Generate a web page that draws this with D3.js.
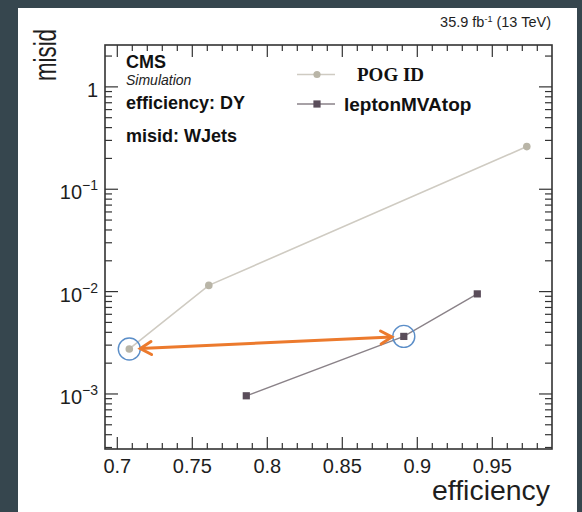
<!DOCTYPE html>
<html><head><meta charset="utf-8">
<script src="https://cdn.jsdelivr.net/npm/d3@7"></script>
<style>body{margin:0;background:#36464e;overflow:hidden}svg{display:block}</style>
</head><body><svg id="c" width="582" height="512"></svg>
<script>
// ---- data ----
const seriesNames = ["POG ID", "leptonMVAtop"];
const pogEff   = [0.708, 0.761, 0.973];
const pogMisid = [2.75e-3, 1.15e-2, 0.261];
const mvaEff   = [0.786, 0.891, 0.940];
const mvaMisid = [9.6e-4, 3.65e-3, 9.5e-3];
const xTickValues = [0.7, 0.75, 0.8, 0.85, 0.9, 0.95];
const xTickLabels = ["0.7", "0.75", "0.8", "0.85", "0.9", "0.95"];
const yTickValues = [1, 0.1, 0.01, 0.001];
const yTickExponents = [0, -1, -2, -3];
const infoLines = ["CMS", "Simulation", "efficiency: DY", "misid: WJets"];
const lumiText = ["35.9 fb", "-1", " (13 TeV)"];
const xTitle = "efficiency", yTitle = "misid";
// highlighted comparison: POG ID point 0  <->  leptonMVAtop point 1
const highlight = [{s: 0, i: 0}, {s: 1, i: 1}];

const svg = d3.select("#c");
const L = 105, R = 552, T = 45, B = 449;
const x = d3.scaleLinear().domain([0.6918, 0.9898]).range([L, R]);
const y = d3.scaleLog().domain([2.9e-4, 2.565]).range([B, T]);

svg.append("rect").attr("x", 18).attr("y", 8).attr("width", 559).attr("height", 504).attr("fill", "#fff");

const axisCol = "#333";
const g = svg.append("g");
// x ticks
const xMinor = d3.range(70, 99).map(v => v / 100).filter(v => v > x.domain()[0] && v < x.domain()[1]);
xMinor.forEach(v => {
  const major = xTickValues.some(t => Math.abs(t - v) < 1e-6);
  const len = major ? 12 : 6;
  g.append("line").attr("x1", x(v)).attr("x2", x(v)).attr("y1", B).attr("y2", B - len).attr("stroke", axisCol).attr("stroke-width", 1.2);
  g.append("line").attr("x1", x(v)).attr("x2", x(v)).attr("y1", T).attr("y2", T + len).attr("stroke", axisCol).attr("stroke-width", 1.2);
});
// y ticks
const yMinor = [];
[1e-4, 1e-3, 1e-2, 1e-1, 1].forEach(d => { for (let m = 2; m <= 9; m++) yMinor.push(m * d); });
yMinor.filter(v => v > y.domain()[0] && v < y.domain()[1]).forEach(v => {
  g.append("line").attr("x1", L).attr("x2", L + 7).attr("y1", y(v)).attr("y2", y(v)).attr("stroke", axisCol).attr("stroke-width", 1.2);
  g.append("line").attr("x1", R).attr("x2", R - 7).attr("y1", y(v)).attr("y2", y(v)).attr("stroke", axisCol).attr("stroke-width", 1.2);
});
yTickValues.forEach(v => {
  g.append("line").attr("x1", L).attr("x2", L + 13).attr("y1", y(v)).attr("y2", y(v)).attr("stroke", axisCol).attr("stroke-width", 1.2);
  g.append("line").attr("x1", R).attr("x2", R - 13).attr("y1", y(v)).attr("y2", y(v)).attr("stroke", axisCol).attr("stroke-width", 1.2);
});
g.append("rect").attr("x", L).attr("y", T).attr("width", R - L).attr("height", B - T)
  .attr("fill", "none").attr("stroke", axisCol).attr("stroke-width", 1.6);

const font = "Liberation Sans, Arial, Helvetica, sans-serif";
// x tick labels
xTickValues.forEach((v, i) => {
  svg.append("text").attr("x", x(v)).attr("y", B + 23.5).attr("text-anchor", "middle")
    .attr("font-family", font).attr("font-size", 20).attr("fill", "#1e1e1e").text(xTickLabels[i]);
});
// y tick labels
yTickValues.forEach((v, i) => {
  const t = svg.append("text").attr("x", 98).attr("y", y(v) + 10).attr("text-anchor", "end")
    .attr("font-family", font).attr("font-size", 20).attr("fill", "#1e1e1e");
  if (yTickExponents[i] === 0) t.text("1");
  else {
    t.append("tspan").text("10");
    t.append("tspan").attr("font-size", 14).attr("dy", -9).text("\u2212" + (-yTickExponents[i]));
  }
});
// axis titles
svg.append("text").attr("x", 550).attr("y", 500).attr("text-anchor", "end")
  .attr("font-family", font).attr("font-size", 27).attr("fill", "#1e1e1e")
  .attr("textLength", 118).attr("lengthAdjust", "spacingAndGlyphs").text(xTitle);
svg.append("text").attr("transform", "translate(56,29) rotate(-90)").attr("text-anchor", "end")
  .attr("font-family", font).attr("font-size", 31).attr("fill", "#1e1e1e")
  .attr("textLength", 52).attr("lengthAdjust", "spacingAndGlyphs").text(yTitle);
// lumi
const lt = svg.append("text").attr("x", 551).attr("y", 27).attr("text-anchor", "end")
  .attr("font-family", font).attr("font-size", 14.5).attr("fill", "#1e1e1e");
lt.append("tspan").text(lumiText[0]);
lt.append("tspan").attr("font-size", 9).attr("dy", -5).text(lumiText[1]);
lt.append("tspan").attr("dy", 5).text(lumiText[2]);
// info text
svg.append("text").attr("x", 126).attr("y", 67.5).attr("font-family", font).attr("font-weight", "bold").attr("font-size", 18).attr("fill", "#111").text(infoLines[0]);
svg.append("text").attr("x", 126).attr("y", 85).attr("font-family", font).attr("font-style", "italic").attr("font-size", 14).attr("fill", "#222").text(infoLines[1]);
svg.append("text").attr("x", 126).attr("y", 108.5).attr("font-family", font).attr("font-weight", "bold").attr("font-size", 18).attr("fill", "#111").text(infoLines[2]);
svg.append("text").attr("x", 126).attr("y", 141.5).attr("font-family", font).attr("font-weight", "bold").attr("font-size", 18).attr("fill", "#111").text(infoLines[3]);

// series
const pogLine = "#cfcbc2", pogMark = "#b9b5a7";
const mvaLine = "#8a8288", mvaMark = "#5a4d5a";
const pog = pogEff.map((e, i) => [e, pogMisid[i]]);
const mva = mvaEff.map((e, i) => [e, mvaMisid[i]]);
const line = d3.line().x(d => x(d[0])).y(d => y(d[1]));
svg.append("path").attr("d", line(pog)).attr("fill", "none").attr("stroke", pogLine).attr("stroke-width", 1.6);
svg.append("path").attr("d", line(mva)).attr("fill", "none").attr("stroke", mvaLine).attr("stroke-width", 1.4);
pog.forEach(d => svg.append("circle").attr("cx", x(d[0])).attr("cy", y(d[1])).attr("r", 3.8).attr("fill", pogMark));
mva.forEach(d => svg.append("rect").attr("x", x(d[0]) - 3.6).attr("y", y(d[1]) - 3.6).attr("width", 7.2).attr("height", 7.2).attr("fill", mvaMark));

// legend
const lg1 = 74.5, lg2 = 104;
svg.append("line").attr("x1", 297).attr("x2", 335).attr("y1", lg1).attr("y2", lg1).attr("stroke", pogLine).attr("stroke-width", 1.6);
svg.append("circle").attr("cx", 317).attr("cy", lg1).attr("r", 3.6).attr("fill", pogMark);
svg.append("text").attr("x", 357).attr("y", lg1 + 6).attr("font-family", "Liberation Serif, Times New Roman, serif").attr("font-weight", "bold").attr("font-size", 19).attr("fill", "#111").text(seriesNames[0]);
svg.append("line").attr("x1", 297).attr("x2", 335).attr("y1", lg2).attr("y2", lg2).attr("stroke", mvaLine).attr("stroke-width", 1.4);
svg.append("rect").attr("x", 317 - 3.6).attr("y", lg2 - 3.6).attr("width", 7.2).attr("height", 7.2).attr("fill", mvaMark);
svg.append("text").attr("x", 344).attr("y", lg2 + 7).attr("font-family", font).attr("font-weight", "bold").attr("font-size", 19).attr("fill", "#111").text(seriesNames[1]);

// highlight circles and arrow
const pts = highlight.map(h => h.s === 0 ? pog[h.i] : mva[h.i]).map(d => [x(d[0]), y(d[1])]);
const rad = 11;
pts.forEach(p => svg.append("circle").attr("cx", p[0]).attr("cy", p[1]).attr("r", rad)
  .attr("fill", "none").attr("stroke", "#5b8ec8").attr("stroke-width", 1.4));
const [p0, p1] = pts;
const dx = p1[0] - p0[0], dy = p1[1] - p0[1], len = Math.hypot(dx, dy);
const ux = dx / len, uy = dy / len;
const a = [p0[0] + ux * 11, p0[1] + uy * 11], b = [p1[0] - ux * 12, p1[1] - uy * 12];
const orange = "#ec7a2d";
svg.append("line").attr("x1", a[0]).attr("y1", a[1]).attr("x2", b[0]).attr("y2", b[1])
  .attr("stroke", orange).attr("stroke-width", 3);
function head(tip, dirx, diry) {
  const h = 11, w = 6.5;
  const bx = tip[0] - dirx * h, by = tip[1] - diry * h;
  const nx = -diry, ny = dirx;
  svg.append("path").attr("d", `M${bx + nx * w},${by + ny * w}L${tip[0]},${tip[1]}L${bx - nx * w},${by - ny * w}`)
    .attr("fill", "none").attr("stroke", orange).attr("stroke-width", 3).attr("stroke-linejoin", "miter").attr("stroke-linecap", "round");
}
head(a, -ux, -uy);
head(b, ux, uy);
</script></body></html>
